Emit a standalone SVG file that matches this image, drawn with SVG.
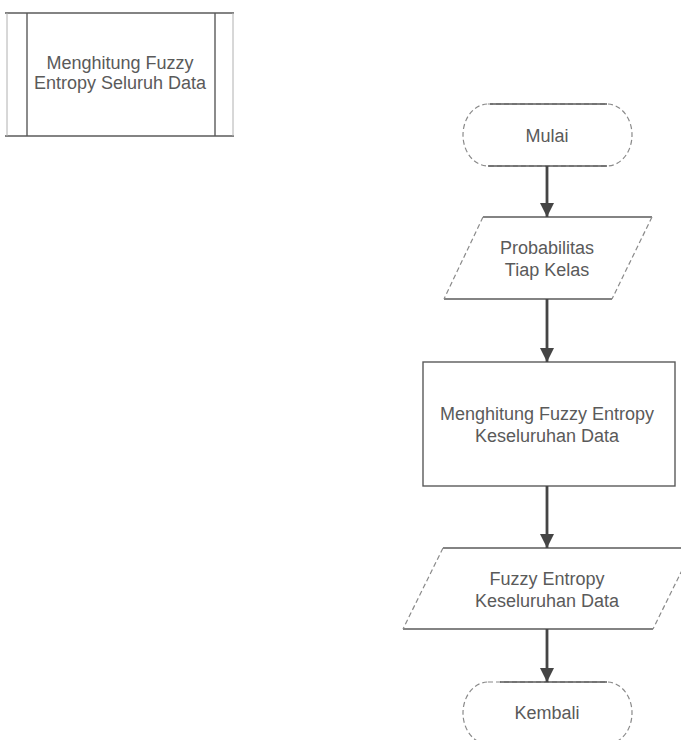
<svg xmlns="http://www.w3.org/2000/svg" width="681" height="740" viewBox="0 0 681 740">
  <style>
    .bg { fill: #ffffff; }
    .edge { fill: none; stroke: #5a5a5a; stroke-width: 1.4; }
    .soft { fill: none; stroke: #8a8a8a; stroke-width: 1.2; stroke-dasharray: 5 3; }
    .faint { fill: none; stroke: #b0b0b0; stroke-width: 1; }
    .label { font-family: "Liberation Sans", Arial, sans-serif; font-size: 18px; fill: #5a5a5a; text-anchor: middle; }
    .flow { stroke: #454545; stroke-width: 2.8; fill: none; }
  </style>
  <defs>
    <marker id="arrow" viewBox="0 0 14 14" refX="14" refY="7" markerWidth="14" markerHeight="14" markerUnits="userSpaceOnUse" orient="auto">
      <path d="M0,0 L14,7 L0,14 Z" fill="#454545"/>
    </marker>
  </defs>
  <rect class="bg" x="0" y="0" width="681" height="740"/>

  <!-- predefined process -->
  <g id="subprocess">
    <line class="edge" x1="5" y1="13" x2="234" y2="13"/>
    <line class="edge" x1="5" y1="136" x2="234" y2="136"/>
    <line class="faint" x1="7" y1="13" x2="7" y2="136"/>
    <line class="edge" x1="27" y1="13" x2="27" y2="136"/>
    <line class="edge" x1="215" y1="13" x2="215" y2="136"/>
    <line class="faint" x1="233" y1="13" x2="233" y2="136"/>
    <text class="label" x="120" y="69">Menghitung Fuzzy</text>
    <text class="label" x="120" y="89">Entropy Seluruh Data</text>
  </g>

  <!-- start terminal -->
  <g id="mulai">
    <rect class="soft" x="463" y="104" width="169" height="62" rx="25" ry="31"/>
    <line class="edge" x1="490" y1="104" x2="607" y2="104"/>
    <line class="edge" x1="488" y1="166" x2="607" y2="166"/>
    <text class="label" x="547" y="142">Mulai</text>
  </g>

  <!-- input: class probabilities -->
  <g id="probabilitas">
    <line class="edge" x1="483" y1="217" x2="652" y2="217"/>
    <line class="edge" x1="444" y1="299" x2="612" y2="299"/>
    <line class="soft" x1="483" y1="217" x2="444" y2="299"/>
    <line class="soft" x1="652" y1="217" x2="612" y2="299"/>
    <text class="label" x="547" y="254">Probabilitas</text>
    <text class="label" x="547" y="276">Tiap Kelas</text>
  </g>

  <!-- process -->
  <g id="hitung">
    <rect class="edge" x="423" y="362" width="252" height="124"/>
    <text class="label" x="547" y="420">Menghitung Fuzzy Entropy</text>
    <text class="label" x="547" y="442">Keseluruhan Data</text>
  </g>

  <!-- output: fuzzy entropy -->
  <g id="fuzzy-entropy">
    <line class="edge" x1="443" y1="548" x2="693" y2="548"/>
    <line class="edge" x1="403" y1="629" x2="653" y2="629"/>
    <line class="soft" x1="443" y1="548" x2="403" y2="629"/>
    <line class="soft" x1="693" y1="548" x2="653" y2="629"/>
    <text class="label" x="547" y="585">Fuzzy Entropy</text>
    <text class="label" x="547" y="607">Keseluruhan Data</text>
  </g>

  <!-- end terminal -->
  <g id="kembali">
    <rect class="soft" x="463" y="682" width="169" height="62" rx="25" ry="31"/>
    <line class="edge" x1="500" y1="682" x2="607" y2="682"/>
    <text class="label" x="547" y="719">Kembali</text>
  </g>

  <!-- connectors -->
  <g id="connectors">
    <line class="flow" x1="547" y1="166" x2="547" y2="217" marker-end="url(#arrow)"/>
    <line class="flow" x1="547" y1="299" x2="547" y2="362" marker-end="url(#arrow)"/>
    <line class="flow" x1="547" y1="486" x2="547" y2="548" marker-end="url(#arrow)"/>
    <line class="flow" x1="547" y1="629" x2="547" y2="682" marker-end="url(#arrow)"/>
  </g>
</svg>
